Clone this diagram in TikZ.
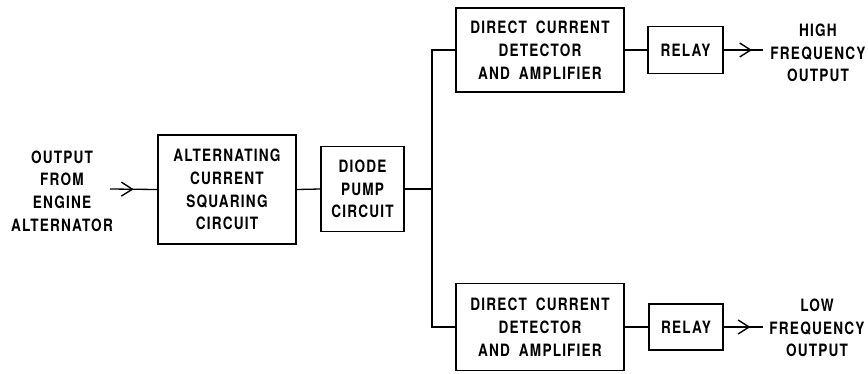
\documentclass[tikz,border=0pt]{standalone}
\usepackage{fontspec}
\setmainfont{TeX Gyre Heros}[FakeStretch=0.8, LetterSpace=7, WordSpace=1.8]
\usetikzlibrary{arrows.meta, positioning, decorations.markings}

\begin{document}
\begin{tikzpicture}[
		x=1pt, y=-1pt,
		every node/.style={font=\fontsize{17}{22.7}\selectfont\bfseries, align=center},
		block/.style={draw, rectangle, line width=1.3pt, inner sep=0pt},
		wire/.style={line width=1.3pt},
		midarrow/.style={wire, decoration={markings, mark=at position #1 with {\arrow{Straight Barb[length=11pt, width=14pt, line width=1.4pt]}}}, postaction={decorate}}
		]
		\useasboundingbox (0,0) rectangle (868,373);
		
		% --- Input and front end ---
		\node (src) at (62,191) {OUTPUT\\FROM\\ENGINE\\ALTERNATOR};
		\coordinate (srcend) at (110,189);
		\node[block, minimum width=138pt, minimum height=109pt] (square) at (227,189.5) {ALTERNATING\\CURRENT\\SQUARING\\CIRCUIT};
		\node[block, minimum width=83pt, minimum height=85pt] (pump) at (362.5,189) {DIODE\\PUMP\\CIRCUIT};
		\coordinate (split) at (432,189);
		
		% --- High frequency branch ---
		\node[block, minimum width=168pt, minimum height=84pt] (dchigh) at (540,50) {DIRECT CURRENT\\DETECTOR\\AND AMPLIFIER};
		\node[block, minimum width=75pt, minimum height=47pt] (relayhigh) at (685.5,50) {RELAY};
		\coordinate (hiend) at (763,50);
		\node (hiout) at (818,53) {HIGH\\FREQUENCY\\OUTPUT};
		
		% --- Low frequency branch ---
		\node[block, minimum width=168pt, minimum height=87pt] (dclow) at (540,327) {DIRECT CURRENT\\DETECTOR\\AND AMPLIFIER};
		\node[block, minimum width=74pt, minimum height=46pt] (relaylow) at (686,327) {RELAY};
		\coordinate (loend) at (763,327);
		\node (loout) at (817,328) {LOW\\FREQUENCY\\OUTPUT};
		
		% --- Connectors ---
		\draw[midarrow=0.5] (srcend) -- (square.west);
		\draw[wire] (square.east) -- (pump.west);
		\draw[wire] (pump.east) -- (split);
		\draw[wire] (split) |- (dchigh.west);
		\draw[wire] (split) |- (dclow.west);
		\draw[wire] (dchigh.east) -- (relayhigh.west);
		\draw[wire] (dclow.east) -- (relaylow.west);
		\draw[midarrow=0.72] (relayhigh.east) -- (hiend);
		\draw[midarrow=0.68] (relaylow.east) -- (loend);
	\end{tikzpicture}
\end{document}
